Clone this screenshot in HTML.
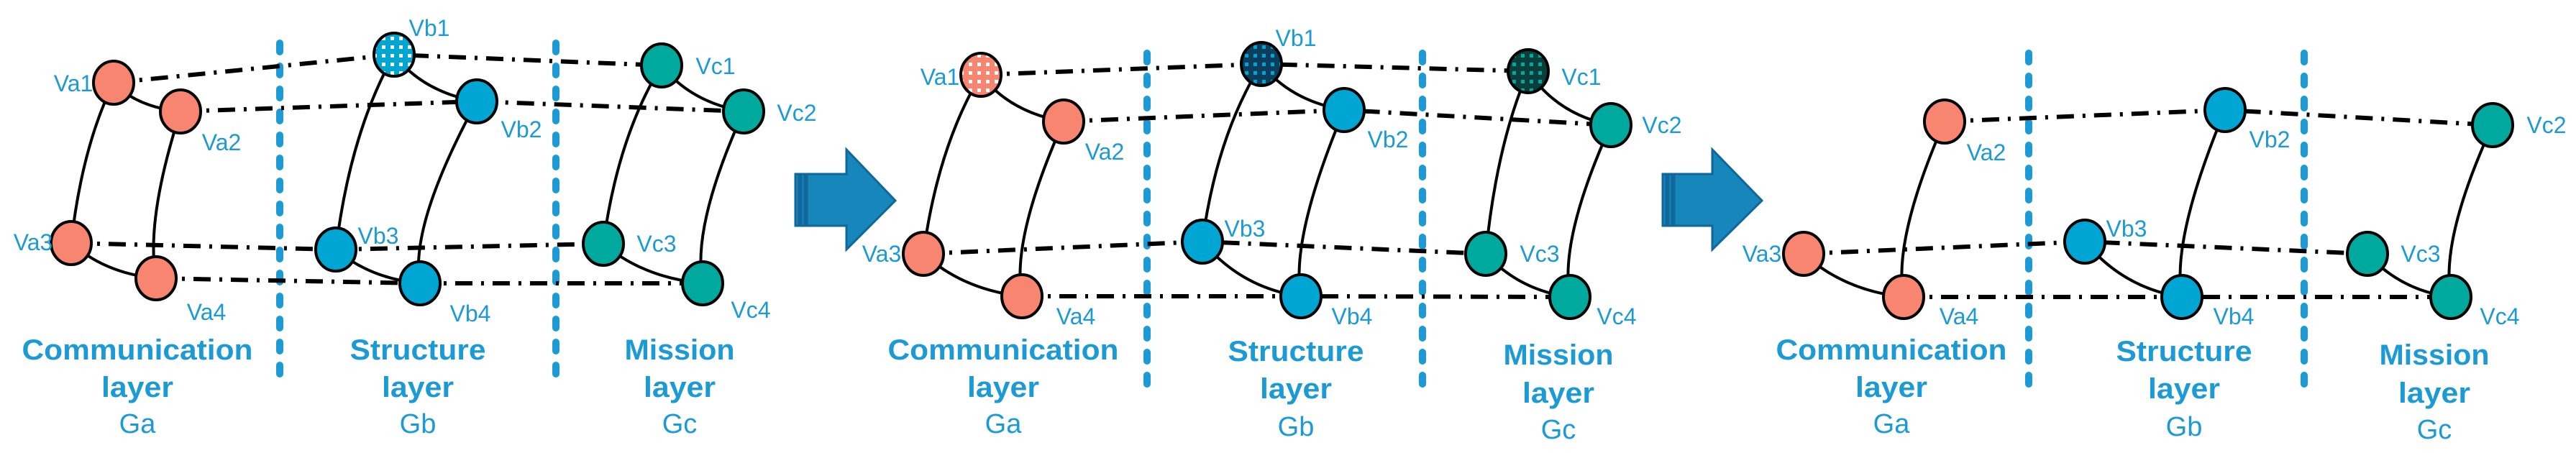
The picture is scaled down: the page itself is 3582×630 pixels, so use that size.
<!DOCTYPE html>
<html><head><meta charset="utf-8"><style>
html,body{margin:0;padding:0;background:#fff;width:3582px;height:630px;overflow:hidden}
svg{display:block}
.l{font-family:"Liberation Sans",sans-serif;font-size:32px;fill:#1B9AD6}
.t{font-family:"Liberation Sans",sans-serif;font-size:40px;font-weight:bold;fill:#1B9AD6}
.g{font-family:"Liberation Sans",sans-serif;font-size:38px;fill:#1B9AD6}
.e{fill:none;stroke:#000;stroke-width:4}
.d{fill:none;stroke:#000;stroke-width:6;stroke-dasharray:24 12 4 12}
.v{stroke:#1B9AD6;stroke-width:10;stroke-dasharray:12 20;stroke-linecap:round}
.n{stroke:#000;stroke-width:4}
.s{fill:#F88570}.b{fill:#00A6D3}.c{fill:#00A99D}
.ar{fill:#1686BB;stroke:#10679a;stroke-width:3}
</style></head><body>
<svg width="3582" height="630" viewBox="0 0 3582 630" xmlns="http://www.w3.org/2000/svg">
<defs>
<pattern id="pb" width="12" height="12" patternUnits="userSpaceOnUse"><rect width="12" height="12" fill="#00A6D3"/><rect x="3" y="3" width="5" height="5" fill="#fff"/></pattern>
<pattern id="ps" width="12" height="12" patternUnits="userSpaceOnUse"><rect width="12" height="12" fill="#F88570"/><rect x="3" y="3" width="5" height="5" fill="#fff"/></pattern>
<pattern id="pd" width="12" height="12" patternUnits="userSpaceOnUse"><rect width="12" height="12" fill="#0B3E5C"/><rect x="3" y="3" width="5" height="5" fill="#00A6D3"/></pattern>
<pattern id="pt" width="12" height="12" patternUnits="userSpaceOnUse"><rect width="12" height="12" fill="#0A3E3C"/><rect x="3" y="3" width="5" height="5" fill="#00A99D"/></pattern>
</defs>

<line class="v" x1="389" y1="60" x2="389" y2="526"/><line class="v" x1="773" y1="60" x2="773" y2="526"/>
<line class="v" x1="1595" y1="74" x2="1595" y2="538"/><line class="v" x1="1978" y1="74" x2="1978" y2="538"/>
<line class="v" x1="2821" y1="74" x2="2821" y2="538"/><line class="v" x1="3204" y1="74" x2="3204" y2="538"/>

<polyline class="d" points="158,115 548,76 920,91"/>
<polyline class="d" points="251,155 663,141 1034,155"/>
<polyline class="d" points="99,338 467,347 839,339"/>
<polyline class="d" points="217,387 584,394 977,394"/>
<polyline class="d" points="1364,104 1754,89 2125,99"/>
<polyline class="d" points="1479,169 1869,153 2240,174"/>
<polyline class="d" points="1284,353 1672,336 2066,353"/>
<polyline class="d" points="1421,412 1809,412 2183,413"/>
<polyline class="d" points="2704,169 3094,153 3466,174"/>
<polyline class="d" points="2508,353 2899,336 3292,353"/>
<polyline class="d" points="2647,413 3034,413 3408,413"/>

<path class="e" d="M158 115Q190 149 251 155M158 115Q114 204 99 338M251 155Q202 307 217 387M99 338Q146 380 217 387"/>
<path class="e" d="M548 76Q588 128 663 141M548 76Q487 184 467 347M663 141Q569 314 584 394M467 347Q514 387 584 394"/>
<path class="e" d="M920 91Q960 142 1034 155M920 91Q859 190 839 339M1034 155Q962 314 977 394M839 339Q894 386 977 394"/>
<path class="e" d="M1364 104Q1404 156 1479 169M1364 104Q1304 204 1284 353M1479 169Q1406 332 1421 412M1284 353Q1339 403 1421 412"/>
<path class="e" d="M1754 89Q1794 140 1869 153M1754 89Q1692 188 1672 336M1869 153Q1794 332 1809 412M1672 336Q1727 401 1809 412"/>
<path class="e" d="M2125 99Q2165 159 2240 174M2125 99Q2081 201 2066 353M2240 174Q2168 333 2183 413M2066 353Q2113 404 2183 413"/>
<path class="e" d="M2704 169Q2632 333 2647 413M2508 353Q2564 404 2647 413"/>
<path class="e" d="M3094 153Q3019 333 3034 413M2899 336Q2953 401 3034 413"/>
<path class="e" d="M3466 174Q3393 333 3408 413M3292 353Q3338 404 3408 413"/>

<g class="n">
<ellipse class="s" cx="158" cy="115" rx="28" ry="30"/><ellipse class="s" cx="251" cy="155" rx="28" ry="30"/>
<ellipse class="s" cx="99" cy="338" rx="28" ry="30"/><ellipse class="s" cx="217" cy="387" rx="28" ry="30"/>
<ellipse fill="url(#pb)" cx="548" cy="76" rx="28" ry="30"/><ellipse class="b" cx="663" cy="141" rx="28" ry="30"/>
<ellipse class="b" cx="467" cy="347" rx="28" ry="30"/><ellipse class="b" cx="584" cy="394" rx="28" ry="30"/>
<ellipse class="c" cx="920" cy="91" rx="28" ry="30"/><ellipse class="c" cx="1034" cy="155" rx="28" ry="30"/>
<ellipse class="c" cx="839" cy="339" rx="28" ry="30"/><ellipse class="c" cx="977" cy="394" rx="28" ry="30"/>
<ellipse fill="url(#ps)" cx="1364" cy="104" rx="28" ry="30"/><ellipse class="s" cx="1479" cy="169" rx="28" ry="30"/>
<ellipse class="s" cx="1284" cy="353" rx="28" ry="30"/><ellipse class="s" cx="1421" cy="412" rx="28" ry="30"/>
<ellipse fill="url(#pd)" cx="1754" cy="89" rx="28" ry="30"/><ellipse class="b" cx="1869" cy="153" rx="28" ry="30"/>
<ellipse class="b" cx="1672" cy="336" rx="28" ry="30"/><ellipse class="b" cx="1809" cy="412" rx="28" ry="30"/>
<ellipse fill="url(#pt)" cx="2125" cy="99" rx="28" ry="30"/><ellipse class="c" cx="2240" cy="174" rx="28" ry="30"/>
<ellipse class="c" cx="2066" cy="353" rx="28" ry="30"/><ellipse class="c" cx="2183" cy="413" rx="28" ry="30"/>
<ellipse class="s" cx="2704" cy="169" rx="28" ry="30"/>
<ellipse class="s" cx="2508" cy="353" rx="28" ry="30"/><ellipse class="s" cx="2647" cy="413" rx="28" ry="30"/>
<ellipse class="b" cx="3094" cy="153" rx="28" ry="30"/>
<ellipse class="b" cx="2899" cy="336" rx="28" ry="30"/><ellipse class="b" cx="3034" cy="413" rx="28" ry="30"/>
<ellipse class="c" cx="3466" cy="174" rx="28" ry="30"/>
<ellipse class="c" cx="3292" cy="353" rx="28" ry="30"/><ellipse class="c" cx="3408" cy="413" rx="28" ry="30"/>
</g>

<g class="ar">
<rect x="1106" y="242" width="5" height="72"/><rect x="1114" y="242" width="5" height="72"/>
<polygon points="1122,242 1177,242 1177,208 1245,279 1177,347 1177,314 1122,314"/>
<rect x="2312" y="242" width="5" height="72"/><rect x="2320" y="242" width="5" height="72"/>
<polygon points="2328,242 2381,242 2381,208 2450,279 2381,347 2381,314 2328,314"/>
</g>

<g class="l" text-anchor="middle" dominant-baseline="central">
<text x="102" y="116">Va1</text><text x="308" y="198">Va2</text><text x="46" y="337">Va3</text><text x="287" y="434">Va4</text>
<text x="597" y="39">Vb1</text><text x="725" y="180">Vb2</text><text x="526" y="328">Vb3</text><text x="654" y="436">Vb4</text>
<text x="995" y="92">Vc1</text><text x="1108" y="157">Vc2</text><text x="913" y="339">Vc3</text><text x="1044" y="431">Vc4</text>
<text x="1307" y="107">Va1</text><text x="1536" y="211">Va2</text><text x="1226" y="353">Va3</text><text x="1496" y="440">Va4</text>
<text x="1802" y="53">Vb1</text><text x="1930" y="194">Vb2</text><text x="1731" y="318">Vb3</text><text x="1880" y="440">Vb4</text>
<text x="2199" y="107">Vc1</text><text x="2311" y="174">Vc2</text><text x="2141" y="353">Vc3</text><text x="2248" y="440">Vc4</text>
<text x="2762" y="212">Va2</text><text x="2450" y="353">Va3</text><text x="2724" y="440">Va4</text>
<text x="3156" y="194">Vb2</text><text x="2957" y="318">Vb3</text><text x="3106" y="440">Vb4</text>
<text x="3541" y="174">Vc2</text><text x="3366" y="353">Vc3</text><text x="3476" y="440">Vc4</text>
</g>

<g text-anchor="middle" dominant-baseline="central">
<text class="t" x="191" y="487" textLength="321" lengthAdjust="spacingAndGlyphs">Communication</text>
<text class="t" x="191" y="539" textLength="100" lengthAdjust="spacingAndGlyphs">layer</text>
<text class="g" x="191" y="590">Ga</text>
<text class="t" x="581" y="487" textLength="189" lengthAdjust="spacingAndGlyphs">Structure</text>
<text class="t" x="581" y="539" textLength="100" lengthAdjust="spacingAndGlyphs">layer</text>
<text class="g" x="581" y="590">Gb</text>
<text class="t" x="945" y="487" textLength="153" lengthAdjust="spacingAndGlyphs">Mission</text>
<text class="t" x="945" y="539" textLength="100" lengthAdjust="spacingAndGlyphs">layer</text>
<text class="g" x="945" y="590">Gc</text>

<text class="t" x="1395" y="487" textLength="321" lengthAdjust="spacingAndGlyphs">Communication</text>
<text class="t" x="1395" y="539" textLength="100" lengthAdjust="spacingAndGlyphs">layer</text>
<text class="g" x="1395" y="590">Ga</text>
<text class="t" x="1802" y="489" textLength="189" lengthAdjust="spacingAndGlyphs">Structure</text>
<text class="t" x="1802" y="541" textLength="100" lengthAdjust="spacingAndGlyphs">layer</text>
<text class="g" x="1802" y="594">Gb</text>
<text class="t" x="2167" y="494" textLength="153" lengthAdjust="spacingAndGlyphs">Mission</text>
<text class="t" x="2167" y="547" textLength="100" lengthAdjust="spacingAndGlyphs">layer</text>
<text class="g" x="2167" y="598">Gc</text>

<text class="t" x="2630" y="487" textLength="321" lengthAdjust="spacingAndGlyphs">Communication</text>
<text class="t" x="2630" y="539" textLength="100" lengthAdjust="spacingAndGlyphs">layer</text>
<text class="g" x="2630" y="590">Ga</text>
<text class="t" x="3037" y="489" textLength="189" lengthAdjust="spacingAndGlyphs">Structure</text>
<text class="t" x="3037" y="541" textLength="100" lengthAdjust="spacingAndGlyphs">layer</text>
<text class="g" x="3037" y="594">Gb</text>
<text class="t" x="3385" y="494" textLength="153" lengthAdjust="spacingAndGlyphs">Mission</text>
<text class="t" x="3385" y="547" textLength="100" lengthAdjust="spacingAndGlyphs">layer</text>
<text class="g" x="3385" y="598">Gc</text>
</g>
</svg>
</body></html>
